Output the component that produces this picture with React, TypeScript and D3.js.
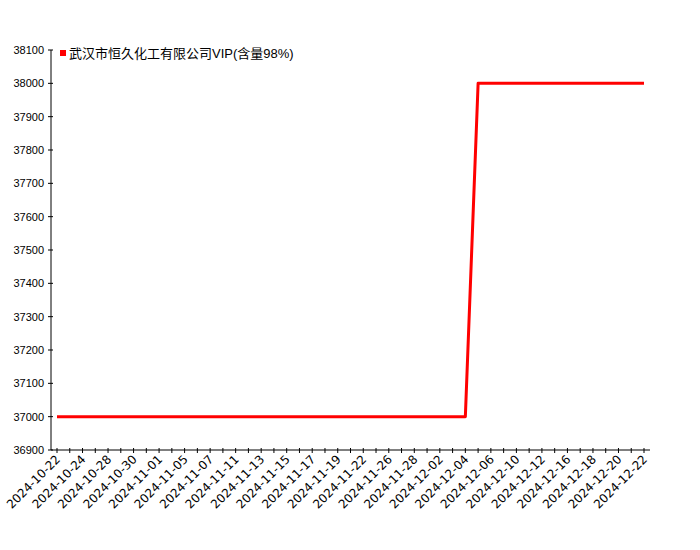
import { scaleLinear, scalePoint, line } from "d3";

const dates = [
  "2024-10-22", "2024-10-23", "2024-10-24", "2024-10-25", "2024-10-28",
  "2024-10-29", "2024-10-30", "2024-10-31", "2024-11-01", "2024-11-04",
  "2024-11-05", "2024-11-06", "2024-11-07", "2024-11-08", "2024-11-11",
  "2024-11-12", "2024-11-13", "2024-11-14", "2024-11-15", "2024-11-16",
  "2024-11-17", "2024-11-18", "2024-11-19", "2024-11-20", "2024-11-22",
  "2024-11-25", "2024-11-26", "2024-11-27", "2024-11-28", "2024-11-29",
  "2024-12-02", "2024-12-03", "2024-12-04", "2024-12-05", "2024-12-06",
  "2024-12-09", "2024-12-10", "2024-12-11", "2024-12-12", "2024-12-13",
  "2024-12-16", "2024-12-17", "2024-12-18", "2024-12-19", "2024-12-20",
  "2024-12-21", "2024-12-22",
];

const prices = [
  37000, 37000, 37000, 37000, 37000, 37000, 37000, 37000, 37000, 37000,
  37000, 37000, 37000, 37000, 37000, 37000, 37000, 37000, 37000, 37000,
  37000, 37000, 37000, 37000, 37000, 37000, 37000, 37000, 37000, 37000,
  37000, 37000, 37000, 38000, 38000, 38000, 38000, 38000, 38000, 38000,
  38000, 38000, 38000, 38000, 38000, 38000, 38000,
];

const seriesName = "武汉市恒久化工有限公司VIP(含量98%)";
const yTicks = [36900, 37000, 37100, 37200, 37300, 37400, 37500, 37600, 37700, 37800, 37900, 38000, 38100];

const font = "'Liberation Sans', Arial, 'Noto Sans CJK SC', sans-serif";

export default function App() {
  const axisX = 51;
  const axisY = 450;

  const x = scalePoint<string>().domain(dates).range([57, 644]);
  const y = scaleLinear().domain([36900, 38100]).range([450, 50]);

  const path = line<number>()
    .x((_, i) => x(dates[i]) as number)
    .y((d) => y(d));

  return (
    <svg
      width={700}
      height={550}
      style={{ position: "absolute", left: 0, top: 0, background: "#fff" }}
      fontFamily={font}
    >
      {/* y axis */}
      <line x1={axisX} x2={axisX} y1={y(38100)} y2={axisY} stroke="#000" />
      {yTicks.map((t) => (
        <g key={t} transform={`translate(${axisX},${y(t)})`}>
          <line x1={-3} x2={2} stroke="#000" />
          <text x={-7} dy="0.35em" textAnchor="end" fontSize={11} fill="#000">
            {t}
          </text>
        </g>
      ))}

      {/* x axis */}
      <line x1={axisX} x2={650} y1={axisY} y2={axisY} stroke="#000" />
      {dates.map((d, i) => (
        <g key={d} transform={`translate(${x(d)},${axisY})`}>
          <line y1={-2} y2={3} stroke="#000" />
          {i % 2 === 0 && (
            <text
              transform="translate(4,10) rotate(-45)"
              textAnchor="end"
              fontSize={12}
              fontFamily="'DejaVu Sans', sans-serif"
              fill="#000"
            >
              {d}
            </text>
          )}
        </g>
      ))}

      {/* series */}
      <path
        d={path(prices) as string}
        fill="none"
        stroke="#ff0000"
        strokeWidth={3}
        strokeLinejoin="round"
      />

      {/* legend */}
      <rect x={60} y={50} width={6} height={6} fill="#ff0000" />
      <text x={69} y={57.5} fontSize={13} fill="#000">
        {seriesName}
      </text>
    </svg>
  );
}
